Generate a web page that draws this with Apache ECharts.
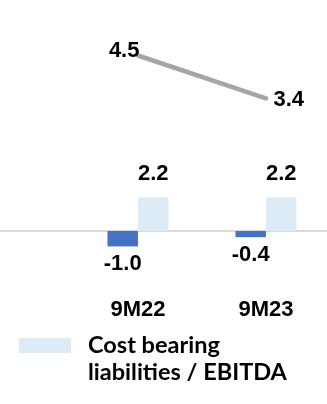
<!DOCTYPE html>
<html>
<head>
<meta charset="utf-8">
<script src="https://cdn.jsdelivr.net/npm/echarts@6/dist/echarts.min.js"></script>
<style>
  html, body { margin: 0; padding: 0; background: #ffffff; }
  #chart { width: 327px; height: 404px; }
</style>
</head>
<body>
<div id="chart"></div>
<script>
// Reporting periods
const categories = ['9M22', '9M23'];
// Net debt / EBITDA (dark bars)
const netDebtValues = [-1.0, -0.4];
// Cost bearing liabilities / EBITDA (light bars)
const costBearingValues = [2.2, 2.2];
// Equity ratio line
const ratioValues = [4.5, 3.4];

const costBearingName = 'Cost bearing liabilities / EBITDA';
const labelFont = 'Liberation Sans, Arial, sans-serif';

// Periods sit at x = 1, 2 on a numeric axis so the baseline can run edge to edge
const periodX = categories.map((_, i) => i + 1);
const pairs = values => values.map((v, i) => [periodX[i], v]);

const valueLabel = {
  show: true,
  formatter: p => p.value[1].toFixed(1),
  fontFamily: labelFont,
  fontWeight: 'bold',
  fontSize: 22,
  color: '#000000'
};

const chart = echarts.init(document.getElementById('chart'), null, { renderer: 'canvas' });

chart.setOption({
  animation: false,
  backgroundColor: '#ffffff',
  grid: { left: 0, right: 0, top: 36, bottom: 134, containLabel: false },
  legend: {
    data: [costBearingName],
    left: 14,
    top: 300,
    itemWidth: 52,
    itemHeight: 15,
    icon: 'rect',
    formatter: function () { return '\u00a0\nCost bearing\nliabilities / EBITDA'; },
    textStyle: {
      fontFamily: 'Lato, sans-serif',
      fontWeight: 'bold',
      fontSize: 23.5,
      lineHeight: 27,
      color: '#000000',
      padding: [0, 0, 0, 12]
    }
  },
  xAxis: {
    type: 'value',
    min: -0.078,
    max: 2.477,
    splitLine: { show: false },
    axisLine: { onZero: true, lineStyle: { color: '#d9d9d9', width: 2 } },
    axisTick: { show: false },
    axisLabel: {
      customValues: periodX,
      formatter: v => categories[Math.round(v) - 1] || '',
      margin: 29,
      fontFamily: labelFont,
      fontWeight: 'bold',
      fontSize: 22,
      color: '#000000'
    }
  },
  yAxis: [
    { type: 'value', min: -2.53, max: 12.66, show: false, splitLine: { show: false } },
    { type: 'value', min: -1, max: 5, show: false, splitLine: { show: false } }
  ],
  series: [
    {
      name: 'Net debt / EBITDA',
      type: 'bar',
      yAxisIndex: 0,
      data: pairs(netDebtValues),
      barWidth: 30.5,
      barGap: '0%',
      itemStyle: { color: '#4472C4' },
      label: Object.assign({}, valueLabel, { position: 'bottom', distance: 7 })
    },
    {
      name: costBearingName,
      type: 'bar',
      yAxisIndex: 0,
      data: pairs(costBearingValues),
      barWidth: 30.5,
      barGap: '0%',
      itemStyle: { color: '#DDEBF7' },
      label: Object.assign({}, valueLabel, { position: 'top', distance: 12 })
    },
    {
      name: 'Equity ratio',
      type: 'line',
      yAxisIndex: 1,
      data: pairs(ratioValues).map((d, i) => ({
        value: d,
        label: i === 0
          ? { position: 'left', distance: 4, offset: [6, -5] }
          : { position: 'right', distance: 7, offset: [0, 2] }
      })),
      symbol: 'circle',
      symbolSize: 1,
      showSymbol: true,
      itemStyle: { color: '#A5A5A5' },
      lineStyle: { color: '#A5A5A5', width: 4.5, cap: 'round' },
      label: valueLabel
    }
  ]
});
</script>
</body>
</html>
